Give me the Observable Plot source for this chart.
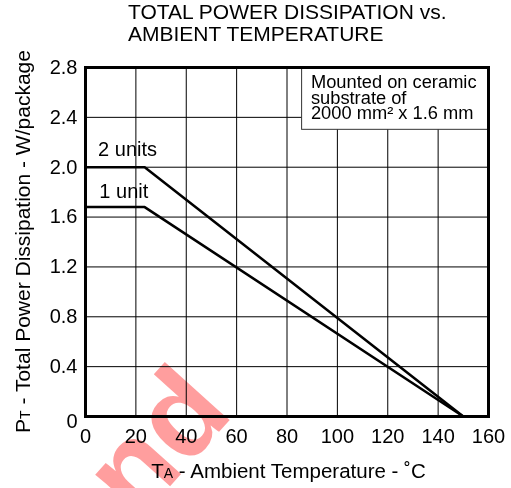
<!DOCTYPE html>
<html>
<head>
<meta charset="utf-8">
<script src="https://cdn.jsdelivr.net/npm/d3@7"></script>
<script src="https://cdn.jsdelivr.net/npm/@observablehq/plot@0.6"></script>
<style>
  html, body { margin: 0; padding: 0; background: #fff; }
  #wrap { position: relative; width: 511px; height: 488px; overflow: hidden; background: #fff;
          font-family: "Liberation Sans", Arial, sans-serif; }
  #title { height: 50px; box-sizing: border-box; padding-left: 128px; padding-top: 1px;
           font-size: 21px; line-height: 21.7px; color: #000; white-space: nowrap; }
  #wm { position: absolute; left: 0; top: 0; pointer-events: none; mix-blend-mode: multiply; }
</style>
</head>
<body>
<div id="wrap">
  <div id="title">TOTAL POWER DISSIPATION vs.<br>AMBIENT TEMPERATURE</div>
  <div id="chart"></div>
</div>
<script>
// ---- data ----
const tempC = [0, 23.5, 150];            // ambient temperature (°C) breakpoints
const twoUnitsW = [2.0, 2.0, 0];         // W/package, 2 units
const oneUnitW = [1.68, 1.68, 0];        // W/package, 1 unit
const seriesNames = ["2 units", "1 unit"];
const labelT = [5, 5.5];                 // label anchor temperature
const labelP = [2.09, 1.755];            // label anchor power (baseline)
const xTicks = [0, 20, 40, 60, 80, 100, 120, 140, 160];
const yTicks = [0, 0.4, 0.8, 1.2, 1.6, 2.0, 2.4, 2.8];
const yTickLabels = ["0", "0.4", "0.8", "1.2", "1.6", "2.0", "2.4", "2.8"];
const noteLines = ["Mounted on ceramic", "substrate of", "2000 mm² x 1.6 mm"];
const noteT = 89.5;
const noteP = [2.635, 2.51, 2.385];
const boxT = [86, 160];
const boxP = [2.3, 2.8];

const rows = [
  ...tempC.map((t, i) => ({series: seriesNames[0], t, p: twoUnitsW[i]})),
  ...tempC.map((t, i) => ({series: seriesNames[1], t, p: oneUnitW[i]}))
];

const font = "Liberation Sans, Arial, sans-serif";
const plot = Plot.plot({
  width: 511,
  height: 438,
  marginTop: 17,
  marginBottom: 72,
  marginLeft: 85,
  marginRight: 23,
  style: {fontFamily: font, fontSize: "20px", color: "#000", background: "transparent", overflow: "visible"},
  x: {domain: [0, 160]},
  y: {domain: [0, 2.8]},
  marks: [
    Plot.gridX(xTicks.slice(1, -1), {stroke: "#000", strokeOpacity: 1, strokeWidth: 1}),
    Plot.gridY(yTicks.slice(1, -1), {stroke: "#000", strokeOpacity: 1, strokeWidth: 1}),
    Plot.rect([0], {x1: boxT[0], x2: boxT[1], y1: boxP[0], y2: boxP[1], fill: "#fff", stroke: "#333", strokeWidth: 1}),
    Plot.line(rows, {x: "t", y: "p", z: "series", stroke: "#000", strokeWidth: 2.5, strokeLinejoin: "miter"}),
    Plot.text(seriesNames, {x: (d, i) => labelT[i], y: (d, i) => labelP[i], text: d => d,
      textAnchor: "start", lineAnchor: "bottom", fontSize: 20, fill: "#000"}),
    Plot.text(noteLines, {x: () => noteT, y: (d, i) => noteP[i], text: d => d,
      textAnchor: "start", lineAnchor: "bottom", fontSize: 18.3, fill: "#000"}),
    Plot.frame({stroke: "#000", strokeWidth: 3}),
    Plot.axisX(xTicks, {tickSize: 0, tickPadding: 12, label: null, fontSize: 20, fill: "#000"}),
    Plot.axisY(yTicks.slice(1), {tickSize: 0, tickPadding: 8, label: null, fontSize: 20, fill: "#000",
      tickFormat: d => yTickLabels[yTicks.indexOf(d)]}),
    Plot.axisY(yTicks.slice(0, 1), {tickSize: 0, tickPadding: 8, label: null, fontSize: 20, fill: "#000", dy: 5,
      tickFormat: d => yTickLabels[yTicks.indexOf(d)]})
  ]
});
document.getElementById("chart").appendChild(plot);

// axis titles with subscripts
const svg = d3.select(plot);
const xs = plot.scale("x"), ys = plot.scale("y");
const xc = (xs.range[0] + xs.range[1]) / 2;
const yc = (ys.range[0] + ys.range[1]) / 2;
const xl = svg.append("text").attr("x", xc + 2).attr("y", ys.range[0] + 62)
  .attr("text-anchor", "middle").attr("font-family", font).attr("font-size", 20.5).attr("fill", "#000");
xl.append("tspan").text("T");
xl.append("tspan").attr("font-size", 14).text("A");
xl.append("tspan").text(" - Ambient Temperature - ˚C");

const yl = svg.append("text").attr("transform", `translate(${xs.range[0] - 55},${yc}) rotate(-90)`)
  .attr("text-anchor", "middle").attr("font-family", font).attr("font-size", 21).attr("fill", "#000");
yl.append("tspan").text("P");
yl.append("tspan").attr("font-size", 14).text("T");
yl.append("tspan").text(" - Total Power Dissipation - W/package");

// faint watermark fragment seen in the source image
const wm = d3.select("#wrap").append("svg").attr("id", "wm").attr("width", 511).attr("height", 488);
wm.append("text").attr("transform", "translate(235,414) rotate(-48)")
  .attr("text-anchor", "end").attr("font-family", font).attr("font-weight", "bold")
  .attr("font-size", 120).attr("fill", "rgb(255,0,0)").attr("fill-opacity", 0.38).text("ond");
</script>
</body>
</html>
